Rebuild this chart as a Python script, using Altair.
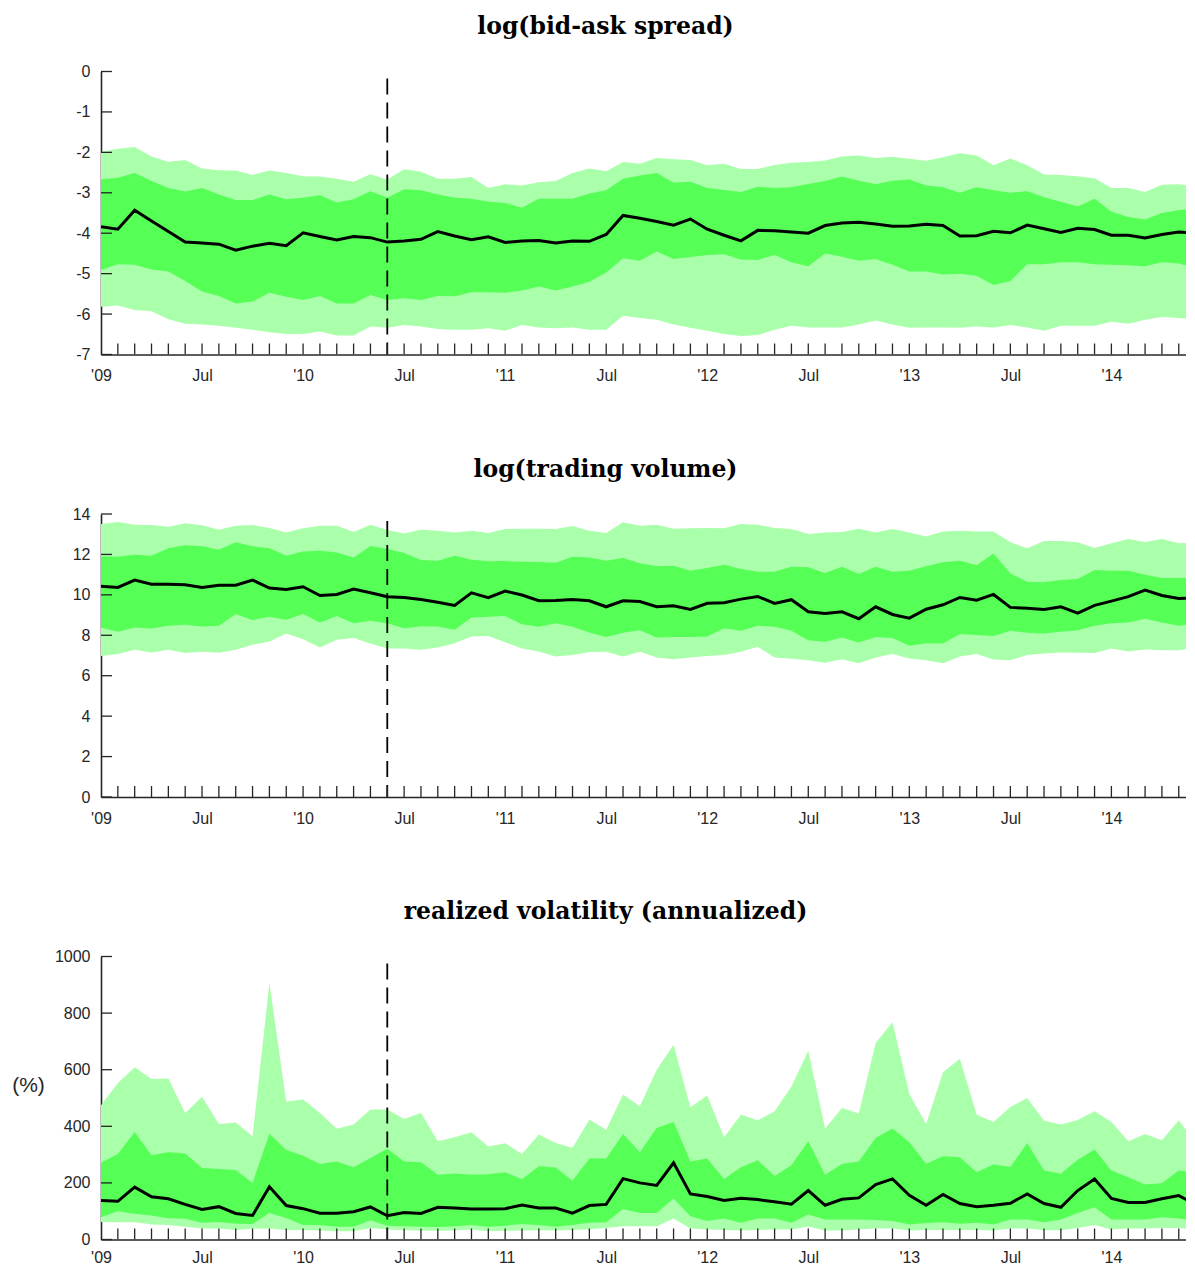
import json
import altair as alt
import pandas as pd

# ---------------- data ----------------
N_MONTHS = 66  # Jan 2009 ... Jun 2014, one point per month
X_LABEL_POS = [0, 6, 12, 18, 24, 30, 36, 42, 48, 54, 60]
X_LABELS = ["'09", "Jul", "'10", "Jul", "'11", "Jul", "'12", "Jul", "'13", "Jul", "'14"]
EVENT_MONTH = 17  # June 2010 (dashed line)

TITLES = ["log(bid-ask spread)", "log(trading volume)", "realized volatility (annualized)"]

# Panel 1: log(bid-ask spread)
ba_med = [-3.84, -3.90, -3.43, -3.70, -3.96, -4.22, -4.24, -4.27, -4.42, -4.32, -4.25, -4.31, -3.99, -4.08, -4.17,
          -4.08, -4.11, -4.22, -4.19, -4.15, -3.96, -4.07, -4.16, -4.09, -4.23, -4.19, -4.18, -4.24, -4.19, -4.20,
          -4.03, -3.56, -3.63, -3.71, -3.80, -3.65, -3.90, -4.05, -4.19, -3.93, -3.94, -3.97, -4.00, -3.81, -3.75,
          -3.73, -3.77, -3.83, -3.82, -3.78, -3.81, -4.07, -4.06, -3.95, -3.99, -3.80, -3.89, -3.98, -3.88, -3.91,
          -4.05, -4.05, -4.12, -4.03, -3.97, -4.00]
ba_ohi = [-1.99, -1.91, -1.87, -2.10, -2.23, -2.19, -2.40, -2.44, -2.45, -2.56, -2.45, -2.51, -2.59, -2.60, -2.65,
          -2.73, -2.54, -2.67, -2.42, -2.48, -2.65, -2.65, -2.61, -2.88, -2.79, -2.82, -2.74, -2.71, -2.51, -2.40,
          -2.47, -2.24, -2.28, -2.14, -2.17, -2.19, -2.32, -2.28, -2.41, -2.41, -2.31, -2.26, -2.24, -2.20, -2.10,
          -2.08, -2.14, -2.11, -2.16, -2.21, -2.12, -2.02, -2.08, -2.32, -2.15, -2.32, -2.55, -2.56, -2.59, -2.64,
          -2.88, -2.88, -2.98, -2.80, -2.79, -2.84]
ba_ihi = [-2.67, -2.63, -2.51, -2.71, -2.88, -2.97, -2.88, -3.04, -3.18, -3.18, -3.04, -3.16, -3.12, -3.06, -3.24,
          -3.16, -2.96, -3.12, -2.91, -2.94, -3.04, -3.12, -3.15, -3.22, -3.25, -3.37, -3.15, -3.15, -3.15, -3.02,
          -2.94, -2.65, -2.57, -2.51, -2.75, -2.73, -2.88, -2.93, -2.98, -2.85, -2.88, -2.86, -2.78, -2.71, -2.60,
          -2.70, -2.79, -2.70, -2.67, -2.82, -2.86, -3.00, -2.86, -2.94, -3.00, -2.96, -3.11, -3.22, -3.34, -3.15,
          -3.47, -3.60, -3.66, -3.50, -3.43, -3.39]
ba_ilo = [-4.91, -4.77, -4.78, -4.90, -4.95, -5.18, -5.44, -5.55, -5.74, -5.69, -5.47, -5.57, -5.65, -5.55, -5.74,
          -5.74, -5.53, -5.65, -5.61, -5.65, -5.55, -5.56, -5.46, -5.46, -5.47, -5.42, -5.32, -5.42, -5.32, -5.20,
          -4.97, -4.62, -4.68, -4.45, -4.64, -4.59, -4.54, -4.52, -4.65, -4.66, -4.54, -4.72, -4.82, -4.50, -4.58,
          -4.68, -4.64, -4.78, -4.95, -4.95, -5.02, -5.00, -5.05, -5.28, -5.18, -4.77, -4.77, -4.72, -4.72, -4.77,
          -4.78, -4.79, -4.82, -4.72, -4.75, -4.86]
ba_olo = [-5.82, -5.79, -5.90, -5.93, -6.13, -6.24, -6.26, -6.29, -6.34, -6.39, -6.45, -6.49, -6.49, -6.43, -6.53,
          -6.53, -6.31, -6.34, -6.27, -6.31, -6.37, -6.39, -6.39, -6.35, -6.41, -6.27, -6.33, -6.35, -6.33, -6.39,
          -6.39, -6.04, -6.10, -6.14, -6.26, -6.34, -6.41, -6.49, -6.54, -6.52, -6.39, -6.29, -6.33, -6.33, -6.33,
          -6.26, -6.16, -6.26, -6.34, -6.33, -6.33, -6.34, -6.31, -6.33, -6.27, -6.33, -6.41, -6.29, -6.29, -6.29,
          -6.19, -6.24, -6.14, -6.07, -6.10, -6.12]

# Panel 2: log(trading volume)
tv_med = [10.43, 10.37, 10.73, 10.53, 10.52, 10.50, 10.37, 10.47, 10.48, 10.73, 10.34, 10.27, 10.40, 9.97, 10.02,
          10.29, 10.10, 9.91, 9.87, 9.77, 9.63, 9.48, 10.10, 9.86, 10.19, 9.99, 9.71, 9.72, 9.77, 9.71,
          9.41, 9.71, 9.67, 9.41, 9.46, 9.28, 9.58, 9.61, 9.79, 9.92, 9.58, 9.76, 9.16, 9.08, 9.16,
          8.82, 9.41, 9.03, 8.85, 9.29, 9.51, 9.87, 9.74, 10.02, 9.38, 9.34, 9.28, 9.41, 9.10, 9.48,
          9.69, 9.91, 10.24, 9.97, 9.82, 9.84]
tv_ohi = [13.50, 13.60, 13.47, 13.46, 13.37, 13.54, 13.44, 13.22, 13.42, 13.46, 13.31, 13.09, 13.29, 13.42, 13.42,
          13.11, 13.47, 13.21, 13.04, 13.22, 13.17, 13.08, 13.17, 13.06, 13.26, 13.27, 13.27, 13.26, 13.41, 13.17,
          13.06, 13.59, 13.42, 13.47, 13.27, 13.29, 13.31, 13.29, 13.50, 13.47, 13.31, 13.26, 13.01, 13.09, 13.11,
          13.27, 13.09, 13.26, 13.09, 12.89, 13.14, 13.17, 13.14, 13.14, 12.60, 12.30, 12.66, 12.66, 12.60, 12.32,
          12.55, 12.76, 12.61, 12.76, 12.55, 12.60]
tv_ihi = [11.90, 11.89, 11.99, 11.94, 12.30, 12.46, 12.40, 12.23, 12.60, 12.40, 12.30, 11.94, 12.15, 12.18, 12.10,
          11.85, 12.42, 12.27, 12.07, 11.72, 11.69, 11.94, 11.74, 11.66, 11.67, 11.64, 11.62, 11.59, 11.89, 11.85,
          11.69, 11.82, 11.56, 11.41, 11.44, 11.19, 11.33, 11.49, 11.28, 11.14, 11.14, 11.39, 11.36, 11.08, 11.39,
          11.03, 11.39, 11.14, 11.19, 11.41, 11.61, 11.69, 11.47, 12.05, 11.06, 10.65, 10.62, 10.73, 10.78, 11.23,
          11.19, 11.19, 11.00, 10.83, 10.83, 10.83]
tv_ilo = [8.39, 8.17, 8.39, 8.34, 8.47, 8.52, 8.44, 8.47, 9.05, 8.75, 8.92, 8.77, 9.05, 8.63, 8.96,
          8.60, 8.72, 8.59, 8.35, 8.45, 8.44, 8.27, 8.88, 8.92, 8.95, 8.55, 8.42, 8.59, 8.42, 8.14,
          7.92, 8.12, 8.25, 7.89, 7.92, 7.92, 7.94, 8.35, 8.22, 8.47, 8.42, 8.22, 7.76, 7.68, 7.89,
          7.64, 7.92, 7.86, 7.48, 7.61, 7.59, 8.06, 8.02, 7.96, 8.22, 8.12, 8.09, 8.17, 8.25, 8.47,
          8.59, 8.63, 8.82, 8.63, 8.47, 8.59]
tv_olo = [6.97, 7.07, 7.28, 7.15, 7.28, 7.12, 7.18, 7.13, 7.28, 7.53, 7.69, 8.09, 7.81, 7.40, 7.78,
          7.86, 7.59, 7.35, 7.35, 7.28, 7.40, 7.61, 7.94, 7.97, 7.66, 7.35, 7.20, 6.95, 7.03, 7.17,
          7.18, 6.95, 7.18, 6.90, 6.82, 6.90, 6.98, 7.02, 7.18, 7.43, 6.90, 6.84, 6.77, 6.64, 6.82,
          6.62, 6.90, 7.07, 6.85, 6.77, 6.62, 6.95, 7.07, 6.80, 6.77, 7.03, 7.10, 7.15, 7.13, 7.12,
          7.35, 7.20, 7.30, 7.26, 7.26, 7.40]

# Panel 3: realized volatility (annualized, %)
rv_med = [138, 135, 185, 151, 144, 124, 106, 116, 92, 85, 186, 120, 109, 93, 93,
          98, 115, 84, 95, 92, 114, 111, 108, 108, 109, 122, 111, 111, 93, 120,
          124, 215, 200, 191, 271, 161, 152, 138, 146, 141, 133, 125, 173, 121, 142,
          147, 194, 214, 156, 121, 159, 127, 116, 121, 128, 161, 127, 114, 173, 214,
          145, 131, 131, 144, 155, 124]
rv_ohi = [474, 553, 609, 567, 569, 447, 504, 408, 413, 365, 906, 488, 495, 447, 391,
          406, 459, 459, 426, 447, 347, 361, 379, 329, 340, 302, 371, 341, 324, 424,
          388, 512, 471, 600, 688, 467, 509, 361, 441, 421, 453, 541, 667, 392, 465,
          445, 694, 768, 514, 408, 591, 639, 441, 415, 468, 500, 420, 406, 422, 453,
          415, 347, 373, 351, 421, 341]
rv_ihi = [271, 302, 380, 298, 308, 304, 253, 249, 246, 200, 374, 316, 296, 267, 276,
          255, 288, 321, 276, 273, 229, 233, 229, 231, 238, 213, 259, 254, 208, 286,
          286, 373, 308, 394, 415, 276, 286, 214, 255, 280, 224, 262, 347, 229, 267,
          276, 359, 392, 344, 268, 294, 291, 238, 265, 256, 341, 244, 232, 282, 318,
          244, 220, 194, 199, 244, 235]
rv_ilo = [79, 100, 91, 85, 75, 73, 59, 62, 56, 55, 94, 76, 51, 51, 45,
          45, 68, 49, 47, 45, 44, 47, 51, 45, 49, 55, 51, 45, 51, 59,
          61, 108, 94, 94, 145, 82, 65, 74, 59, 74, 74, 59, 88, 71, 71,
          71, 69, 65, 53, 58, 61, 56, 59, 53, 71, 71, 61, 71, 94, 114,
          71, 71, 71, 79, 74, 67]
rv_olo = [62, 61, 61, 53, 51, 45, 39, 39, 34, 38, 39, 34, 34, 32, 29,
          29, 41, 35, 33, 32, 31, 32, 35, 29, 31, 32, 33, 32, 34, 36,
          41, 47, 47, 47, 74, 39, 35, 34, 32, 34, 35, 35, 46, 32, 32,
          35, 39, 39, 32, 34, 34, 34, 34, 32, 39, 39, 33, 33, 41, 51,
          35, 39, 39, 41, 41, 33]

Y_DOMAINS = [[-7, 0], [0, 14], [0, 1000]]
Y_TICKS = [[0, -1, -2, -3, -4, -5, -6, -7], [0, 2, 4, 6, 8, 10, 12, 14], [0, 200, 400, 600, 800, 1000]]

# ---------------- styling ----------------
LIGHT = "#AAFFAA"
BRIGHT = "#55FF55"
AX = "#262626"
SANS = "Liberation Sans"
SERIF = "DejaVu Serif"
W, H = 1085, 283
XMAX = 64.43
LABEL_SIZE = 16


def panel(title, olo, ilo, med, ihi, ohi, ydom, yvals, ytitle=None, xpad=13):
    for s in (olo, ilo, med, ihi, ohi):
        assert len(s) == N_MONTHS
    df = pd.DataFrame({"m": list(range(N_MONTHS)), "olo": olo, "ilo": ilo,
                       "med": med, "ihi": ihi, "ohi": ohi})
    xs = alt.Scale(domain=[0, XMAX], nice=False, zero=False)
    ys = alt.Scale(domain=ydom, nice=False, zero=False)
    xaxis = alt.Axis(values=X_LABEL_POS, labelExpr=json.dumps(X_LABELS) + "[round(datum.value / 6)]",
                     ticks=False, tickSize=0, grid=False, domainColor=AX, domainWidth=1.6,
                     labelFont=SANS, labelFontSize=LABEL_SIZE, labelColor=AX, labelPadding=xpad,
                     labelFlush=False, labelOverlap=False)
    yargs = dict(values=yvals, format="d", labelExpr="replace(datum.label, '\u2212', '-')",
                 ticks=False, tickSize=0, grid=False, domainColor=AX, domainWidth=1.6,
                 labelFont=SANS, labelFontSize=LABEL_SIZE, labelColor=AX, labelPadding=11,
                 labelFlush=False, labelOverlap=False)
    if ytitle:
        yargs.update(titleAngle=0, titleX=-73, titleY=129, titleAlign="center",
                     titleBaseline="middle", titleFont=SANS, titleFontSize=21,
                     titleFontWeight="normal", titleColor=AX)
    yaxis = alt.Axis(**yargs)

    xenc = alt.X("m:Q", scale=xs, axis=xaxis, title=None)

    def yenc(f):
        if ytitle:
            return alt.Y(f + ":Q", scale=ys, axis=yaxis, title=ytitle)
        return alt.Y(f + ":Q", scale=ys, axis=yaxis, title=None)

    base = alt.Chart(df)
    outer = base.mark_area(color=LIGHT, clip=True).encode(x=xenc, y=yenc("olo"), y2=alt.Y2("ohi"))
    inner = base.mark_area(color=BRIGHT, clip=True).encode(x=xenc, y=yenc("ilo"), y2=alt.Y2("ihi"))
    line = base.mark_line(color="black", strokeWidth=3, clip=True).encode(x=xenc, y=yenc("med"))
    event = alt.Chart(pd.DataFrame({"m": [EVENT_MONTH]})).mark_rule(
        color="black", strokeWidth=1.8, strokeDash=[16, 8]).encode(
        x=xenc, y=alt.value(7), y2=alt.value(H))
    xt = alt.Chart(pd.DataFrame({"m": list(range(1, N_MONTHS))})).mark_rule(
        color=AX, strokeWidth=1.3, clip=True).encode(
        x=xenc, y=alt.value(H), y2=alt.value(H - 11))
    yt = alt.Chart(pd.DataFrame({"v": yvals})).mark_rule(color=AX, strokeWidth=1.3).encode(
        y=yenc("v"), x=alt.value(0), x2=alt.value(11))

    return alt.layer(outer, inner, line, event, xt, yt).properties(
        width=W, height=H,
        title=alt.TitleParams(title, font=SERIF, fontSize=23.5, fontWeight="bold", color="black",
                              anchor="middle", frame="group", dx=-38, offset=6,
                              baseline="alphabetic"))


p1 = panel(TITLES[0], ba_olo, ba_ilo, ba_med, ba_ihi, ba_ohi, Y_DOMAINS[0], Y_TICKS[0])
p2 = panel(TITLES[1], tv_olo, tv_ilo, tv_med, tv_ihi, tv_ohi, Y_DOMAINS[1], Y_TICKS[1])
p3 = panel(TITLES[2], rv_olo, rv_ilo, rv_med, rv_ihi, rv_ohi, Y_DOMAINS[2], Y_TICKS[2],
           ytitle="(%)", xpad=10)

chart = alt.vconcat(p1, p2, p3, spacing=159.5, bounds="flush").properties(
    padding={"left": 3, "top": 6.5, "right": 0, "bottom": 0},
    background="white",
).configure_view(stroke=None)

chart.save("out.html", embed_options={"renderer": "svg", "actions": False})
